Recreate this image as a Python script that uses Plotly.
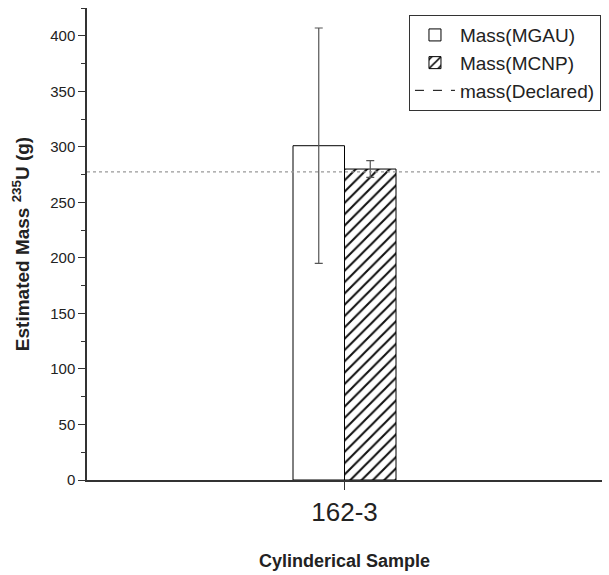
import plotly.graph_objects as go

categories = ["162-3"]
mgau_mass = [301]
mgau_err = [106]
mcnp_mass = [280]
mcnp_err = [7.5]
declared_mass = 277.5
y_ticks = [0, 50, 100, 150, 200, 250, 300, 350, 400]

font_family = "Liberation Sans, Arial, sans-serif"

fig = go.Figure()
fig.add_trace(go.Bar(
    x=categories, y=mgau_mass, name="Mass(MGAU)",
    marker=dict(color="white", line=dict(color="black", width=1)),
    error_y=dict(type="data", array=mgau_err, color="#555555", thickness=1.2, width=4),
))
fig.add_trace(go.Bar(
    x=categories, y=mcnp_mass, name="Mass(MCNP)",
    marker=dict(color="white", line=dict(color="black", width=1),
                pattern=dict(shape="/", fgcolor="#111111", bgcolor="white", size=8, solidity=0.26,
                             fgopacity=1)),
    error_y=dict(type="data", array=mcnp_err, color="#555555", thickness=1.2, width=4),
))
fig.add_trace(go.Scatter(
    x=[None], y=[None], mode="lines", name="mass(Declared)",
    line=dict(color="black", dash="dash", width=1),
))
fig.add_shape(type="line", xref="paper", x0=0, x1=1, yref="y", y0=declared_mass, y1=declared_mass,
              line=dict(color="#999999", width=1.2, dash="dot"))

fig.update_layout(
    width=609, height=575,
    margin=dict(l=87, r=7, t=8, b=95),
    plot_bgcolor="white", paper_bgcolor="white",
    font=dict(family=font_family, color="#222222", size=15),
    barmode="group", bargap=0.8, bargroupgap=0,
    showlegend=True,
    legend=dict(x=0.998, y=0.985, xanchor="right", yanchor="top",
                bordercolor="#333333", borderwidth=1, bgcolor="white",
                font=dict(size=19, family=font_family, color="#222222"),
                tracegroupgap=0, itemwidth=40),
    xaxis=dict(
        showline=True, linecolor="#333333", linewidth=1.5,
        ticks="outside", ticklen=8, tickwidth=1.2, tickcolor="#333333",
        tickfont=dict(size=26),
        title=dict(text="<b>Cylinderical Sample</b>", font=dict(size=18), standoff=28),
        automargin=False,
        showgrid=False, zeroline=False,
    ),
    yaxis=dict(
        range=[0, 425],
        tickvals=y_ticks,
        showline=True, linecolor="#333333", linewidth=1.5,
        ticks="outside", ticklen=7, tickwidth=1.2, tickcolor="#333333",
        minor=dict(dtick=25, ticks="outside", ticklen=4, tickcolor="#333333", tickwidth=1),
        tickfont=dict(size=15),
        title=dict(text="<b>Estimated Mass <sup>235</sup>U (g)</b>", font=dict(size=19), standoff=16),
        automargin=False,
        showgrid=False, zeroline=False,
    ),
)

fig.write_html("out.html", config={"displayModeBar": False},
               post_script="document.body.style.margin='0';document.body.style.padding='0';")
